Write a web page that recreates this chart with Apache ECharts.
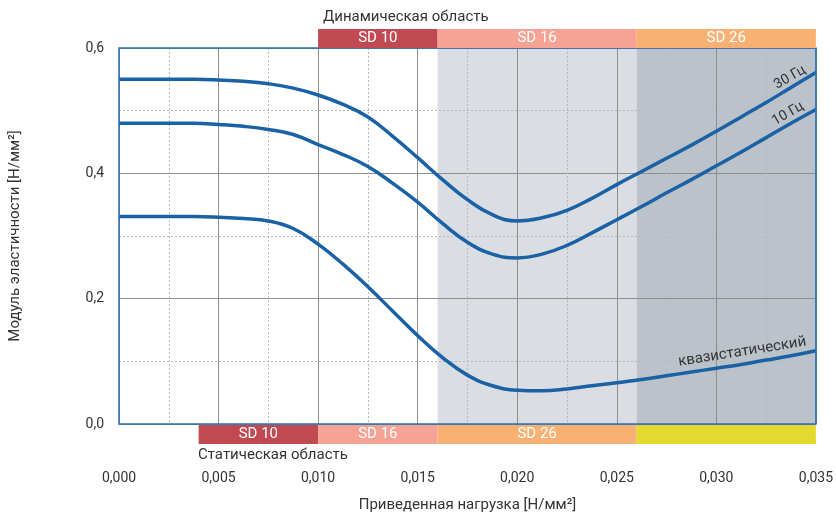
<!DOCTYPE html>
<html><head><meta charset="utf-8">
<script src="https://cdn.jsdelivr.net/npm/echarts@6/dist/echarts.min.js"></script>
<style>html,body{margin:0;padding:0;background:#fff}#c{width:836px;height:518px}</style>
</head><body><div id="c"></div>
<script>
// ---- data ----
const xValues = [0, 0.00125, 0.0025, 0.00375, 0.005, 0.00625, 0.0075, 0.00875, 0.010, 0.01125, 0.0125, 0.01375, 0.015, 0.01625, 0.0175, 0.01875, 0.020, 0.02125, 0.0225, 0.02375, 0.025, 0.02625, 0.0275, 0.02875, 0.030, 0.03125, 0.0325, 0.03375, 0.035];
const hz30  = [0.550, 0.550, 0.550, 0.550, 0.549, 0.547, 0.543, 0.536, 0.525, 0.510, 0.490, 0.459, 0.425, 0.390, 0.358, 0.334, 0.324, 0.329, 0.341, 0.360, 0.382, 0.403, 0.424, 0.445, 0.467, 0.490, 0.513, 0.537, 0.561];
const hz10  = [0.480, 0.480, 0.480, 0.480, 0.478, 0.475, 0.470, 0.462, 0.446, 0.430, 0.411, 0.384, 0.354, 0.320, 0.290, 0.271, 0.265, 0.271, 0.285, 0.305, 0.326, 0.347, 0.369, 0.390, 0.412, 0.434, 0.457, 0.480, 0.502];
const quasi = [0.331, 0.331, 0.331, 0.331, 0.330, 0.328, 0.324, 0.312, 0.287, 0.255, 0.219, 0.180, 0.141, 0.106, 0.078, 0.061, 0.054, 0.053, 0.056, 0.061, 0.066, 0.071, 0.077, 0.083, 0.089, 0.095, 0.102, 0.109, 0.117];
const seriesNames = ['30 Гц', '10 Гц', 'квазистатический'];

const topBandStart  = [0.010, 0.016, 0.026];
const topBandEnd    = [0.016, 0.026, 0.035];
const topBandLabels = ['SD 10', 'SD 16', 'SD 26'];
const bottomBandStart  = [0.004, 0.010, 0.016, 0.026];
const bottomBandEnd    = [0.010, 0.016, 0.026, 0.035];
const bottomBandLabels = ['SD 10', 'SD 16', 'SD 26', ''];
const shadeStart = [0.016, 0.026];
const shadeEnd   = [0.026, 0.035];

const xMin = 0, xMax = 0.035, xStep = 0.005;
const yMin = 0, yMax = 0.6, yStep = 0.2;

// ---- styles ----
const topBandColors = ['#c14a52', '#f6a294', '#f9b173'];
const bottomBandColors = ['#c14a52', '#f6a294', '#f9b173', '#e4d92e'];
const shadeColors = ['#dadde1', '#bbc2c9'];
const lineColor = '#1a62a5';
const FONT = 'Roboto, "Noto Sans", sans-serif';

function bandSeries(starts, ends, labels, colors, yVal, above) {
  return {
    type: 'custom', clip: false, silent: true, z: 5,
    data: starts.map((s, i) => [s, ends[i], yVal]),
    encode: { x: [0, 1], y: 2 },
    renderItem(params, api) {
      const i = params.dataIndex;
      const a = api.coord([api.value(0), api.value(2)]);
      const b = api.coord([api.value(1), api.value(2)]);
      const h = 19;
      const y = above ? a[1] - h : a[1] + 1;
      return {
        type: 'rect',
        shape: { x: a[0], y: y, width: b[0] - a[0], height: h },
        style: { fill: colors[i] },
        textContent: { style: { text: labels[i], fill: '#fff', font: '15px ' + FONT } },
        textConfig: { position: 'inside' }
      };
    }
  };
}

const shadeSeries = {
  type: 'custom', silent: true, z: 0,
  data: shadeStart.map((s, i) => [s, shadeEnd[i]]),
  encode: { x: [0, 1] },
  renderItem(params, api) {
    const i = params.dataIndex;
    const a = api.coord([api.value(0), yMax]);
    const b = api.coord([api.value(1), yMin]);
    return { type: 'rect', shape: { x: a[0], y: a[1], width: b[0] - a[0], height: b[1] - a[1] }, style: { fill: shadeColors[i] } };
  }
};

function lineSeries(name, vals, labelPt, rot, fs) {
  return {
    name, type: 'line', z: 3, smooth: 0.45, symbol: 'none',
    data: xValues.map((x, i) => [x, vals[i]]),
    lineStyle: { color: lineColor, width: 3.5 },
    markPoint: {
      symbol: 'circle', symbolSize: 1, itemStyle: { color: 'rgba(0,0,0,0)' }, silent: true,
      data: [{ coord: labelPt }],
      label: { show: true, position: 'inside', formatter: name, rotate: rot, color: '#333', fontSize: fs, fontFamily: FONT }
    }
  };
}

const chart = echarts.init(document.getElementById('c'));
chart.setOption({
  animation: false,
  backgroundColor: '#fff',
  grid: { left: 118, right: 18, top: 48, bottom: 92, show: true, borderColor: '#2a6fb6', borderWidth: 1.5, backgroundColor: 'transparent', z: 4 },
  xAxis: {
    type: 'value', min: xMin, max: xMax, interval: xStep, z: 1,
    name: 'Приведенная нагрузка [Н/мм²]', nameLocation: 'middle', nameGap: 74,
    nameTextStyle: { color: '#333', fontSize: 15, fontFamily: FONT },
    axisLine: { show: false }, axisTick: { show: false },
    axisLabel: { margin: 47, color: '#333', fontSize: 14, fontFamily: FONT, formatter: v => v.toFixed(3).replace('.', ',') },
    splitLine: { show: true, lineStyle: { color: '#8e8e8e', width: 1 } },
    minorTick: { show: false, splitNumber: 2 },
    minorSplitLine: { show: true, lineStyle: { color: '#b8b8b8', width: 1, type: [2, 2] } }
  },
  yAxis: {
    type: 'value', min: yMin, max: yMax, interval: yStep, z: 1,
    name: 'Модуль эластичности [Н/мм²]', nameLocation: 'middle', nameGap: 96,
    nameTextStyle: { color: '#333', fontSize: 15, fontFamily: FONT },
    axisLine: { show: false }, axisTick: { show: false },
    axisLabel: { margin: 15, color: '#333', fontSize: 14, fontFamily: FONT, formatter: v => v.toFixed(1).replace('.', ',') },
    splitLine: { show: true, lineStyle: { color: '#8e8e8e', width: 1 } },
    minorTick: { show: false, splitNumber: 2 },
    minorSplitLine: { show: true, lineStyle: { color: '#b8b8b8', width: 1, type: [2, 2] } }
  },
  graphic: [
    { type: 'text', left: 323, top: 10, style: { text: 'Динамическая область', fill: '#333', font: '15px ' + FONT } },
    { type: 'text', left: 198, top: 448, style: { text: 'Статическая область', fill: '#333', font: '15px ' + FONT } }
  ],
  series: [
    shadeSeries,
    lineSeries(seriesNames[0], hz30, [0.0337, 0.553], 30, 14),
    lineSeries(seriesNames[1], hz10, [0.0336, 0.495], 30, 14),
    lineSeries(seriesNames[2], quasi, [0.0313, 0.115], 9, 15),
    bandSeries(topBandStart, topBandEnd, topBandLabels, topBandColors, yMax, true),
    bandSeries(bottomBandStart, bottomBandEnd, bottomBandLabels, bottomBandColors, yMin, false)
  ]
});
</script></body></html>
